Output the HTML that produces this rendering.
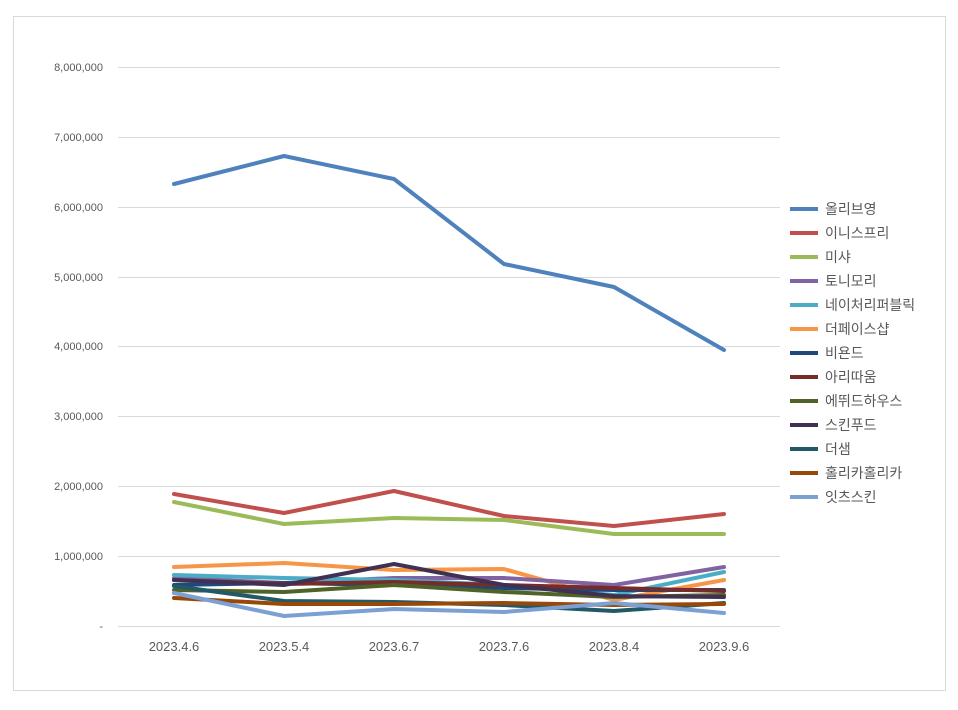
<!DOCTYPE html>
<html><head><meta charset="utf-8"><style>
body{margin:0;background:#fff;}
svg text{font-family:"Liberation Sans","Noto Sans CJK KR",sans-serif;}
</style></head><body>
<svg width="958" height="705" xmlns="http://www.w3.org/2000/svg">
<rect x="0" y="0" width="958" height="705" fill="#fff"/>
<rect x="13.5" y="16.5" width="932" height="674" fill="none" stroke="#d9d9d9"/>
<g stroke="#d9d9d9" stroke-width="1">
<line x1="118" x2="780" y1="67.5" y2="67.5"/><line x1="118" x2="780" y1="137.5" y2="137.5"/>
<line x1="118" x2="780" y1="207.5" y2="207.5"/><line x1="118" x2="780" y1="277.5" y2="277.5"/>
<line x1="118" x2="780" y1="346.5" y2="346.5"/><line x1="118" x2="780" y1="416.5" y2="416.5"/>
<line x1="118" x2="780" y1="486.5" y2="486.5"/><line x1="118" x2="780" y1="556.5" y2="556.5"/>
<line x1="118" x2="780" y1="626.5" y2="626.5"/>
</g>
<g font-size="11" fill="#595959" text-anchor="end">
<text x="103" y="71">8,000,000</text><text x="103" y="141">7,000,000</text>
<text x="103" y="211">6,000,000</text><text x="103" y="281">5,000,000</text>
<text x="103" y="350">4,000,000</text><text x="103" y="420">3,000,000</text>
<text x="103" y="490">2,000,000</text><text x="103" y="560">1,000,000</text>
<text x="103" y="630">-</text>
</g>
<g font-size="13" fill="#595959" text-anchor="middle">
<text x="174" y="651">2023.4.6</text><text x="284" y="651">2023.5.4</text>
<text x="394" y="651">2023.6.7</text><text x="504" y="651">2023.7.6</text>
<text x="614" y="651">2023.8.4</text><text x="724" y="651">2023.9.6</text>
</g>
<g fill="none" stroke-width="4" stroke-linejoin="round" stroke-linecap="round">
<polyline stroke="#4f81bd" points="174,184 284,156 394,179 504,264 614,287 724,350"/>
<polyline stroke="#c0504d" points="174,494 284,513 394,491 504,516 614,526 724,514"/>
<polyline stroke="#9bbb59" points="174,502 284,524 394,518 504,520 614,534 724,534"/>
<polyline stroke="#f79646" points="174,567 284,563 394,570 504,569 614,600 724,580"/>
<polyline stroke="#8064a2" points="174,578 284,583 394,578 504,578 614,585 724,567"/>
<polyline stroke="#4bacc6" points="174,575 284,578 394,580 504,585 614,595 724,572"/>
<polyline stroke="#1f497d" points="174,585 284,583 394,585 504,588 614,590 724,590"/>
<polyline stroke="#772c2a" points="174,580 284,584 394,582 504,585 614,588 724,591"/>
<polyline stroke="#4f6228" points="174,590 284,592 394,585 504,592 614,597 724,595"/>
<polyline stroke="#403152" points="174,580 284,585 394,564 504,585 614,596 724,597"/>
<polyline stroke="#215968" points="174,586 284,601 394,602 504,605 614,611 724,603"/>
<polyline stroke="#984807" points="174,598 284,604 394,604 504,603 614,605 724,604"/>
<polyline stroke="#7ba0d4" points="174,593 284,616 394,609 504,612 614,603 724,613"/>
</g>
<g font-size="14" fill="#595959" stroke-width="4">
<line x1="790" x2="818" y1="209" y2="209" stroke="#4f81bd"/><text x="825" y="214">올리브영</text>
<line x1="790" x2="818" y1="233" y2="233" stroke="#c0504d"/><text x="825" y="238">이니스프리</text>
<line x1="790" x2="818" y1="257" y2="257" stroke="#9bbb59"/><text x="825" y="262">미샤</text>
<line x1="790" x2="818" y1="281" y2="281" stroke="#8064a2"/><text x="825" y="286">토니모리</text>
<line x1="790" x2="818" y1="305" y2="305" stroke="#4bacc6"/><text x="825" y="310">네이처리퍼블릭</text>
<line x1="790" x2="818" y1="329" y2="329" stroke="#f79646"/><text x="825" y="334">더페이스샵</text>
<line x1="790" x2="818" y1="353" y2="353" stroke="#1f497d"/><text x="825" y="358">비욘드</text>
<line x1="790" x2="818" y1="377" y2="377" stroke="#772c2a"/><text x="825" y="382">아리따움</text>
<line x1="790" x2="818" y1="401" y2="401" stroke="#4f6228"/><text x="825" y="406">에뛰드하우스</text>
<line x1="790" x2="818" y1="425" y2="425" stroke="#403152"/><text x="825" y="430">스킨푸드</text>
<line x1="790" x2="818" y1="449" y2="449" stroke="#215968"/><text x="825" y="454">더샘</text>
<line x1="790" x2="818" y1="473" y2="473" stroke="#984807"/><text x="825" y="478">홀리카홀리카</text>
<line x1="790" x2="818" y1="497" y2="497" stroke="#7ba0d4"/><text x="825" y="502">잇츠스킨</text>
</g>
</svg>
</body></html>
